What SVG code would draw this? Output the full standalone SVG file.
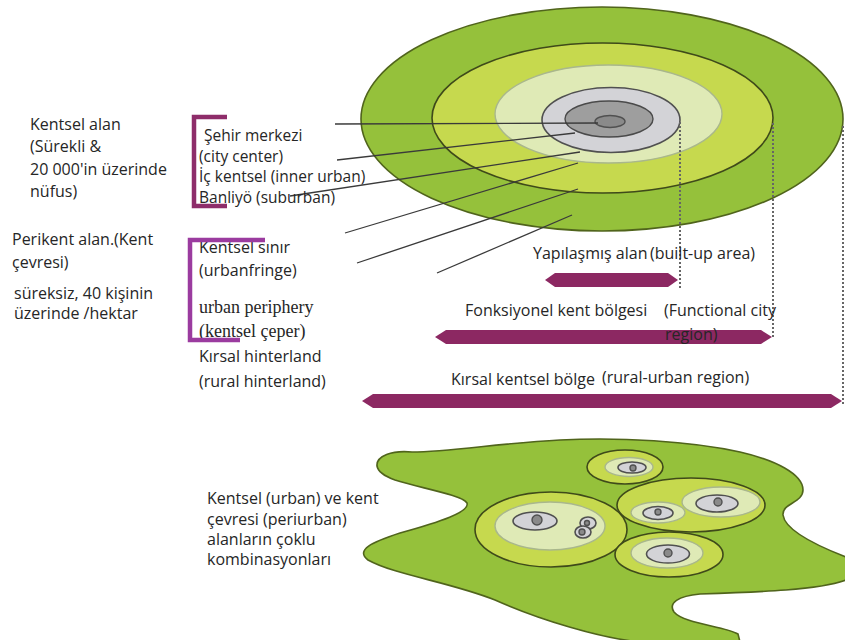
<svg xmlns="http://www.w3.org/2000/svg" width="845" height="640" viewBox="0 0 845 640">
<style>
text{font-family:"Open Sans","Noto Sans","Liberation Sans",sans-serif;font-size:16px;fill:#262626}
.tight{font-size:15.5px}
.serif{font-family:"Liberation Serif","DejaVu Serif",serif;font-size:18px}
.lead{stroke:#3a3a3a;stroke-width:1.3;fill:none}
.dash{stroke:#666666;stroke-width:2;stroke-dasharray:2 2;fill:none}
.rng{fill:#8c2862}
.g1{fill:#95c13b;stroke:#50641c;stroke-width:1.6}
.g2{fill:#c6d94e;stroke:#3f4a1a;stroke-width:1.6}
.g3{fill:#dfeab6;stroke:#a9b78c;stroke-width:1.4}
.gr{fill:#d3d3d7;stroke:#505050;stroke-width:1.6}
.dg{fill:#9e9e9e;stroke:#4a4a4a;stroke-width:1.4}
.dot{fill:#8a8a8a;stroke:#505050;stroke-width:1.4}
.br1{stroke:#8e2d6a;stroke-width:4.5;fill:none}
.br2{stroke:#9b3b9f;stroke-width:4.5;fill:none}
</style>
<rect width="845" height="640" fill="#ffffff"/>

<g id="concentric-city">
<ellipse class="g1" cx="602" cy="119" rx="241" ry="112"/>
<ellipse class="g2" cx="602.5" cy="118" rx="170.5" ry="75"/>
<ellipse class="g3" cx="608.5" cy="114" rx="113.5" ry="49"/>
<ellipse class="gr" cx="611" cy="120" rx="69" ry="32.5"/>
<ellipse class="dg" cx="609" cy="119" rx="44" ry="18"/>
<ellipse class="dot" cx="610" cy="121.5" rx="15" ry="6"/>
</g>

<g id="connectors">
<line class="lead" x1="335" y1="124" x2="598" y2="123"/>
<line class="lead" x1="337" y1="160" x2="575" y2="133"/>
<line class="lead" x1="290" y1="196" x2="580" y2="152"/>
<line class="lead" x1="345" y1="233" x2="578" y2="163"/>
<line class="lead" x1="357" y1="263" x2="578" y2="189"/>
<line class="lead" x1="437" y1="273" x2="572" y2="215"/>
<line class="dash" x1="680" y1="122" x2="680" y2="288"/>
<line class="dash" x1="773" y1="123" x2="773" y2="338"/>
<line class="dash" x1="843" y1="126" x2="843" y2="406"/>
</g>

<g id="ranges">
<polygon class="rng" points="545,280 555,273 668,273 678,280 668,287 555,287"/>
<polygon class="rng" points="435,337 446,330 761,330 772,337 761,344 446,344"/>
<polygon class="rng" points="362,401 373,394 831,394 842,401 831,408 373,408"/>
</g>

<g id="label-kentsel-alan">
<text x="30" y="130">Kentsel alan</text>
<text x="30" y="152">(Sürekli &amp;</text>
<text x="30" y="175">20 000'in üzerinde</text>
<text x="30" y="197">nüfus)</text>
</g>

<g id="label-perikent">
<text x="12" y="245">Perikent alan.(Kent</text>
<text x="12" y="268">çevresi)</text>
<text x="14" y="299">süreksiz, 40 kişinin</text>
<text x="14" y="319">üzerinde /hektar</text>
</g>

<g id="group-urban">
<text class="tight" x="204" y="141">Şehir merkezi</text>
<text class="tight" x="199" y="161.5">(city center)</text>
<text class="tight" x="199" y="182">İç kentsel (inner urban)</text>
<text class="tight" x="199" y="202.5">Banliyö (suburban)</text>
<path class="br1" d="M227,117 H194 V206 H227"/>
</g>

<g id="group-periurban">
<text x="199" y="253">Kentsel sınır</text>
<text x="199" y="276">(urbanfringe)</text>
<text class="serif" x="199" y="313">urban periphery</text>
<text class="serif" x="199" y="337">(kentsel çeper)</text>
<text x="199" y="362">Kırsal hinterland</text>
<text x="199" y="387">(rural hinterland)</text>
<path class="br2" d="M265,240 H190 V340 H240"/>
</g>

<g id="label-builtup">
<text x="533" y="259">Yapılaşmış alan</text>
<text x="650" y="259">(built-up area)</text>
</g>
<g id="label-functional">
<text x="465" y="316">Fonksiyonel kent bölgesi</text>
<text x="664" y="316">(Functional city</text>
<text x="665" y="340">region)</text>
</g>
<g id="label-rural-urban">
<text x="451" y="385">Kırsal kentsel bölge</text>
<text x="602" y="383">(rural-urban region)</text>
</g>

<g id="multi-city">
<path class="g1" stroke-width="2" d="M377,466 C376,456 392,450 412,452 C450,452 500,443 560,440 C620,437 690,441 740,452 C775,460 803,474 803,490 C803,503 782,503 783,515 C785,530 815,545 846,557 L846,580 C820,590 760,592 700,594 C678,596 668,603 674,612 C684,624 725,626 738,634 L740,642 L640,642 C600,638 540,620 495,600 C450,582 395,575 368,560 C355,550 372,542 400,533 C440,522 470,512 467,503 C462,495 420,488 395,480 C384,476 378,472 377,466 Z"/>
<g id="town-top">
<ellipse class="g2" cx="625" cy="467" rx="38" ry="17"/>
<ellipse class="g3" cx="629" cy="467" rx="24" ry="9.5" stroke="#404a20"/>
<ellipse class="gr" cx="632" cy="467.5" rx="14" ry="5.5"/>
<circle class="dot" cx="633" cy="468" r="3"/>
</g>
<g id="town-left">
<ellipse class="g2" cx="551" cy="529.5" rx="76" ry="37.5"/>
<ellipse class="g3" cx="550" cy="526" rx="55" ry="24" stroke="#404a20"/>
<ellipse class="gr" cx="535" cy="521" rx="22" ry="9"/>
<circle class="dot" cx="537" cy="520" r="5"/>
<ellipse class="gr" cx="588" cy="523" rx="8" ry="6"/>
<circle class="dot" cx="587" cy="523" r="2.5"/>
<ellipse class="gr" cx="583" cy="532" rx="8" ry="6"/>
<circle class="dot" cx="582" cy="532" r="3"/>
</g>
<g id="town-right">
<ellipse class="g2" cx="691" cy="505" rx="74" ry="27"/>
<ellipse class="g3" cx="721" cy="502" rx="39" ry="15" stroke="#404a20"/>
<ellipse class="gr" cx="717" cy="503.5" rx="21" ry="8.5"/>
<circle class="dot" cx="718" cy="502" r="4"/>
<ellipse class="g3" cx="658" cy="512.5" rx="27" ry="10.5" stroke="#404a20"/>
<ellipse class="gr" cx="658" cy="513" rx="15" ry="6.5"/>
<circle class="dot" cx="658" cy="512" r="3"/>
</g>
<g id="town-bottom">
<ellipse class="g2" cx="669" cy="554.5" rx="54" ry="22.5"/>
<ellipse class="g3" cx="667" cy="553" rx="36" ry="15" stroke="#404a20"/>
<ellipse class="gr" cx="668" cy="554" rx="21.5" ry="9"/>
<circle class="dot" cx="668" cy="553" r="4"/>
</g>
</g>

<g id="label-multi">
<text x="207" y="504">Kentsel (urban) ve kent</text>
<text x="207" y="525">çevresi (periurban)</text>
<text x="207" y="545">alanların çoklu</text>
<text x="207" y="565">kombinasyonları</text>
</g>
</svg>
